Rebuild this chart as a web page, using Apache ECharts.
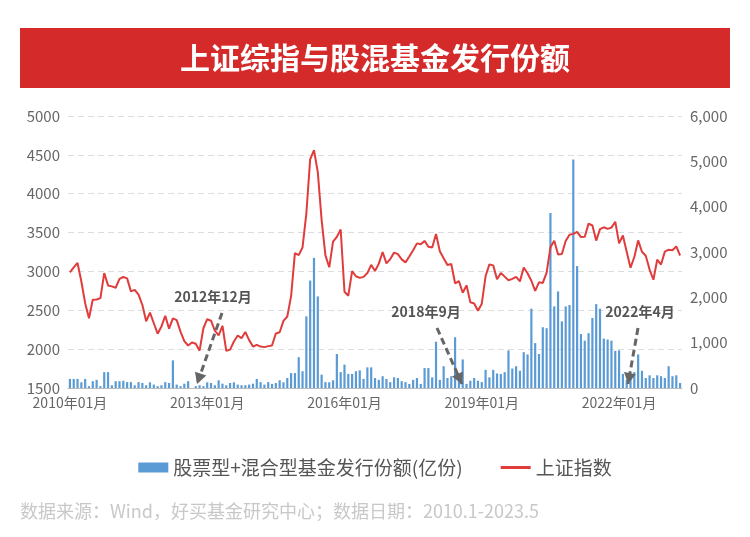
<!DOCTYPE html>
<html><head><meta charset="utf-8">
<script src="https://cdn.jsdelivr.net/npm/echarts@6/dist/echarts.min.js"></script>
<style>body{margin:0;background:#fff}#c{width:750px;height:537px}</style>
</head><body><div id="c"></div>
<script>
const years=[2010,2011,2012,2013,2014,2015,2016,2017,2018,2019,2020,2021,2022,2023];
const categories=[];
years.forEach(y=>{for(let m=1;m<=12;m++){if(y===2023&&m>5)break;categories.push(y+'年'+String(m).padStart(2,'0')+'月');}});
const indexValues=[
2989,3051,3109,2870,2592,2398,2637,2638,2656,2979,2820,2808,
2790,2905,2928,2911,2743,2762,2701,2568,2359,2469,2333,2199,
2292,2428,2263,2397,2373,2225,2103,2047,2086,2069,1980,2269,
2385,2366,2237,2178,2301,1979,1994,2098,2175,2141,2220,2116,
2033,2056,2033,2026,2039,2048,2202,2217,2364,2420,2683,3235,
3210,3310,3748,4442,4560,4277,3664,3206,3053,3383,3445,3539,
2738,2688,3004,2938,2917,2930,2979,3085,3005,3100,3250,3104,
3159,3242,3223,3155,3117,3192,3273,3361,3349,3393,3317,3307,
3481,3259,3169,3082,3095,2847,2876,2725,2821,2603,2588,2494,
2585,2941,3091,3078,2899,2979,2933,2886,2905,2929,2872,3050,
2977,2880,2750,2860,2852,2985,3310,3396,3218,3225,3392,3473,
3483,3509,3442,3447,3615,3591,3397,3544,3568,3547,3564,3640,
3361,3462,3252,3047,3186,3399,3253,3202,3024,2893,3151,3089,
3255,3280,3273,3323,3205];
const fundIssuance=[
200,200,200,125,200,40,150,180,40,350,350,60,
150,150,160,130,130,60,130,110,60,125,75,40,
60,130,110,610,75,40,95,150,0,40,60,40,
125,110,60,170,95,60,110,125,75,60,60,75,
95,200,130,75,130,90,110,170,125,220,330,330,
680,370,1580,2370,2870,2020,295,130,125,170,750,350,
515,310,310,370,390,200,455,455,
220,180,260,200,130,235,220,150,130,90,180,220,90,440,440,235,1020,180,480,220,
260,1120,220,630,90,160,220,160,130,400,235,400,320,310,350,830,430,480,380,790,
740,1750,990,750,1340,1320,3860,1800,2130,1470,1800,1830,5040,2690,1190,1045,1210,1545,1850,1750,
1090,1070,1045,820,830,310,180,235,350,740,380,220,280,220,280,260,220,480,260,280,110];
const annotations=[
 {text:'2012年12月',tx:213,ty:297,x1:222,y1:313,x2:197,y2:384},
 {text:'2018年9月',tx:426,ty:312,x1:437,y1:328,x2:462,y2:384},
 {text:'2022年4月',tx:640,ty:312,x1:638,y1:328,x2:628,y2:384}];
const gfx=[
 {type:'rect',shape:{x:20,y:28,width:710,height:60},style:{fill:'#d42a2a'}},
 {type:'text',style:{text:'上证综指与股混基金发行份额',x:375,y:58,textAlign:'center',textVerticalAlign:'middle',fill:'#fff',font:'bold 30px "Noto Sans CJK SC"'}},
 {type:'text',style:{text:'数据来源：Wind，好买基金研究中心；数据日期：2010.1-2023.5',x:20,y:511,textVerticalAlign:'middle',fill:'#c8c8c8',font:'18px "Noto Sans CJK SC"'}}];
annotations.forEach(a=>{
 gfx.push({type:'text',z:10,style:{text:a.text,x:a.tx,y:a.ty,textAlign:'center',textVerticalAlign:'middle',fill:'#555',font:'bold 14px "Noto Sans CJK SC"'}});
 gfx.push({type:'line',z:10,shape:{x1:a.x1,y1:a.y1,x2:a.x2,y2:a.y2},style:{stroke:'#666',lineWidth:3,lineDash:[7,4]}});
 const ang=Math.atan2(a.y2-a.y1,a.x2-a.x1),L=11,W=6;
 const bx=a.x2-L*Math.cos(ang),by=a.y2-L*Math.sin(ang);
 gfx.push({type:'polygon',z:10,shape:{points:[[a.x2,a.y2],[bx+W*Math.sin(ang),by-W*Math.cos(ang)],[bx-W*Math.sin(ang),by+W*Math.cos(ang)]]},style:{fill:'#666'}});
});
const chart=echarts.init(document.getElementById('c'));
chart.setOption({
 animation:false,
 textStyle:{fontFamily:'"Noto Sans CJK SC"'},
 graphic:gfx,
 grid:{left:68,right:68,top:116,bottom:149},
 legend:{top:453,left:'center',itemGap:38,textStyle:{fontSize:19,color:'#555'},
  data:[{name:'股票型+混合型基金发行份额(亿份)',icon:'rect'},{name:'上证指数',icon:'path://M0,0H30V3H0Z'}],itemWidth:30,itemHeight:10},
 xAxis:{type:'category',data:categories,boundaryGap:true,
  axisLine:{lineStyle:{color:'#bbb'}},axisTick:{show:false},
  axisLabel:{interval:35,color:'#666',fontSize:14}},
 yAxis:[
  {type:'value',min:1500,max:5000,interval:500,axisLine:{show:false},axisTick:{show:false},
   axisLabel:{color:'#666',fontSize:15,formatter:v=>String(v)},splitLine:{lineStyle:{color:'#ddd',type:[6,4]}}},
  {type:'value',min:0,max:6000,interval:1000,axisLine:{show:false},axisTick:{show:false},
   axisLabel:{color:'#666',fontSize:15,formatter:v=>v.toLocaleString('en-US')},splitLine:{show:false}}],
 series:[
  {name:'股票型+混合型基金发行份额(亿份)',type:'bar',yAxisIndex:1,data:fundIssuance,barWidth:2.2,itemStyle:{color:'#5b9bd5'}},
  {name:'上证指数',type:'line',yAxisIndex:0,data:indexValues,symbol:'none',lineStyle:{color:'#e03c3c',width:2},itemStyle:{color:'#e03c3c'},z:5}]
});
</script></body></html>
